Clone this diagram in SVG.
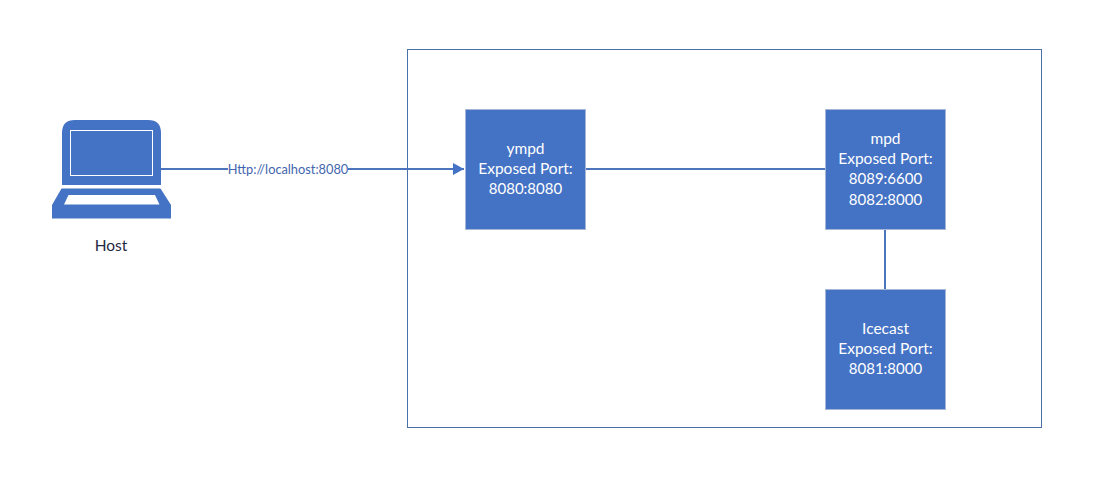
<svg xmlns="http://www.w3.org/2000/svg" width="1109" height="490" viewBox="0 0 1109 490">
<defs>
<marker id="arrow" markerUnits="userSpaceOnUse" markerWidth="12" markerHeight="13" refX="11" refY="6.500" orient="auto"><path d="M0,0.500 L11,6.500 L0,12.500 Z" fill="#4472c4"/></marker>
</defs>
<style>
.box{fill:#4472c4;stroke:#a5b6d6;stroke-width:1}
.lbl{font-family:"Lato","Open Sans",sans-serif;font-size:15.500px;fill:#fff;text-anchor:middle}
.num{font-size:15px}
.conn{fill:none;stroke:#4d75bd;stroke-width:2}
</style>
<rect width="1109" height="490" fill="#fff"/>
<rect id="container" x="407.500" y="49.500" width="634" height="378" fill="#fff" stroke="#4a70a8" stroke-width="1"/>
<g id="connectors">
<path class="conn" d="M161,169 H464" marker-end="url(#arrow)"/>
<path class="conn" d="M585,169 H826"/>
<path class="conn" d="M885,229 V290"/>
<rect x="228" y="160" width="120" height="18" fill="#fff"/>
<text x="288" y="173.500" style="font-family:'Lato','Open Sans',sans-serif;font-size:12.800px;fill:#3f65ad;text-anchor:middle">Http://localhost:8080</text>
</g>
<g id="host">
<path d="M75,120 H148 Q161,120 161,133 V185 H62 V133 Q62,120 75,120 Z" fill="#4472c4"/>
<rect x="70.500" y="130.500" width="82" height="45" fill="#4472c4" stroke="#fff" stroke-width="1"/>
<path fill-rule="evenodd" d="M61.500,188.500 H160.500 L171,205 V218.500 H52 V205 Z M68.500,195 L64,204.500 H159.500 L155,195 Z" fill="#4472c4"/>
<text x="111" y="251" style="font-family:'Lato','Open Sans',sans-serif;font-size:15.500px;fill:#1f2a44;text-anchor:middle">Host</text>
</g>
<g id="ympd">
<rect class="box" x="465.500" y="109.500" width="120" height="120"/>
<text class="lbl" x="525.500" y="154">ympd</text>
<text class="lbl" x="525.500" y="174">Exposed Port:</text>
<text class="lbl num" x="525.500" y="194">8080:8080</text>
</g>
<g id="mpd">
<rect class="box" x="825.500" y="109.500" width="120" height="120"/>
<text class="lbl" x="885.500" y="144">mpd</text>
<text class="lbl" x="885.500" y="164">Exposed Port:</text>
<text class="lbl num" x="885.500" y="184">8089:6600</text>
<text class="lbl num" x="885.500" y="205">8082:8000</text>
</g>
<g id="icecast">
<rect class="box" x="825.500" y="289.500" width="120" height="120"/>
<text class="lbl" x="885.500" y="334">Icecast</text>
<text class="lbl" x="885.500" y="354">Exposed Port:</text>
<text class="lbl num" x="885.500" y="374">8081:8000</text>
</g>
</svg>
